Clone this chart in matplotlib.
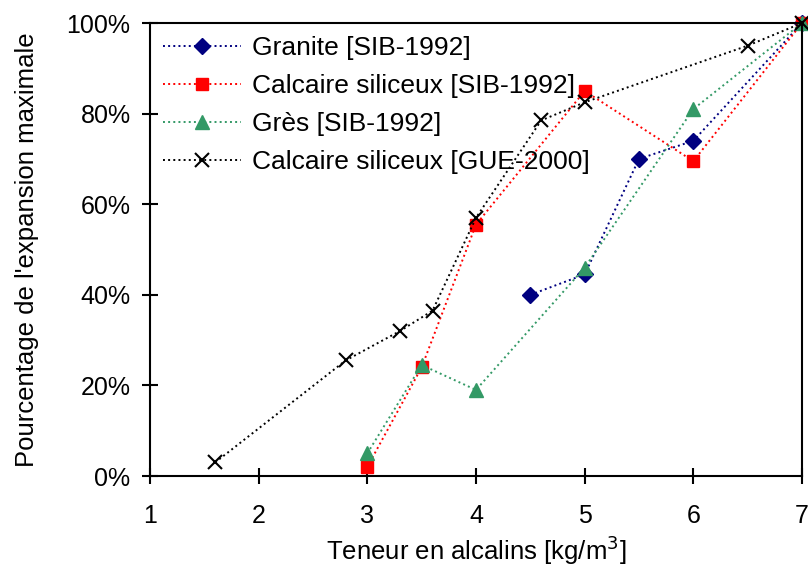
import matplotlib.pyplot as plt
from matplotlib.ticker import PercentFormatter

plt.rcParams['font.family'] = ['Liberation Sans', 'DejaVu Sans']

# Granite [SIB-1992]
granite_x = [4.5, 5.0, 5.5, 6.0, 7.0]
granite_y = [40, 44.5, 70, 74, 100]

# Calcaire siliceux [SIB-1992]
calc_sib_x = [3.0, 3.5, 4.0, 5.0, 6.0, 7.0]
calc_sib_y = [2, 24, 55.5, 85, 69.5, 100]

# Grès [SIB-1992]
gres_x = [3.0, 3.5, 4.0, 5.0, 6.0, 7.0]
gres_y = [5, 24.5, 19, 46, 81, 100]

# Calcaire siliceux [GUE-2000]
calc_gue_x = [1.6, 2.8, 3.3, 3.6, 4.0, 4.6, 5.0, 6.5, 7.0]
calc_gue_y = [3, 25.5, 32, 36.5, 57, 78.5, 82.5, 95, 100]

fig = plt.figure(figsize=(8.08, 5.70), dpi=100)
ax = fig.add_axes([0.1856, 0.1649, 0.8070, 0.7947])

common = dict(linestyle=':', linewidth=1.4, clip_on=False)
ax.plot(granite_x, granite_y, color='#000080', marker='D', markersize=8,
        label='Granite [SIB-1992]', **common)
ax.plot(calc_sib_x, calc_sib_y, color='#ff0000', marker='s', markersize=9,
        label='Calcaire siliceux [SIB-1992]', **common)
ax.plot(gres_x, gres_y, color='#339966', marker='^', markersize=10,
        label='Grès [SIB-1992]', **common)
ax.plot(calc_gue_x, calc_gue_y, color='black', marker='x', markersize=9.5,
        markeredgewidth=1.5, label='Calcaire siliceux [GUE-2000]', **common)

ax.set_xlim(1, 7)
ax.set_ylim(0, 100)
ax.set_xticks(range(1, 8))
ax.set_yticks(range(0, 101, 20))
ax.yaxis.set_major_formatter(PercentFormatter(decimals=0))

ax.tick_params(direction='inout', length=12, width=1.5, labelsize=18)
ax.tick_params(axis='x', pad=14)
ax.tick_params(axis='y', pad=8)
for spine in ax.spines.values():
    spine.set_linewidth(1.5)
    spine.set_color('black')

ax.set_xlabel('Teneur en alcalins [kg/m$^3$]', fontsize=18.5, labelpad=4)
ax.set_ylabel("Pourcentage de l'expansion maximale", fontsize=18.5, labelpad=20)

ax.legend(loc='upper left', frameon=False, fontsize=19, handlelength=2.95,
          handletextpad=0.4, labelspacing=0.53, borderaxespad=0.2, borderpad=0.3)

fig.savefig('out.png', dpi=100)
